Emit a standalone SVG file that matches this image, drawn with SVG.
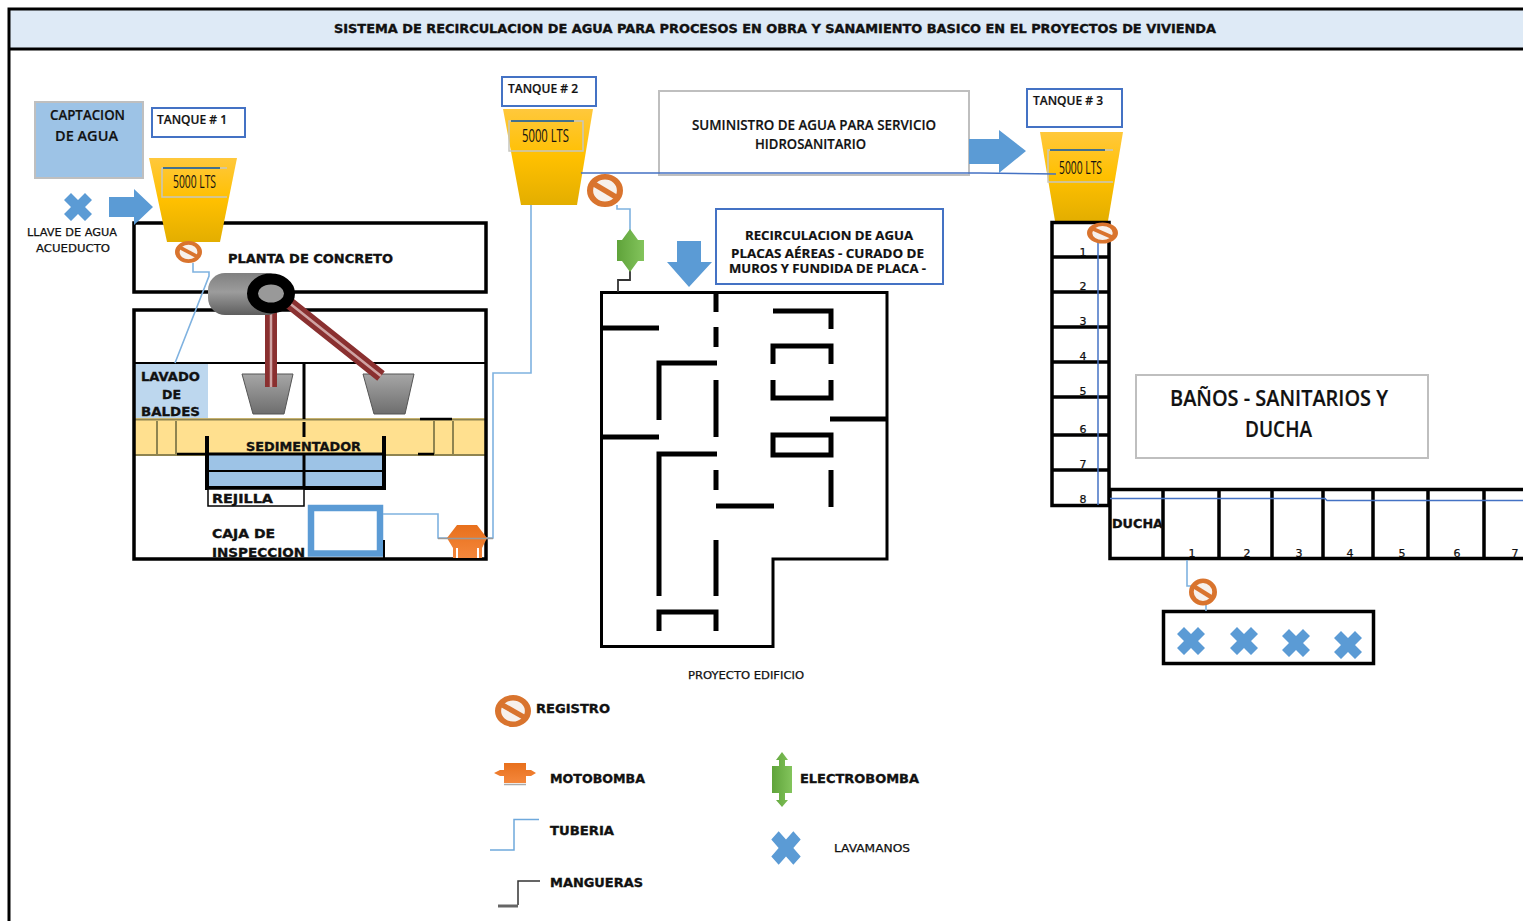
<svg xmlns="http://www.w3.org/2000/svg" width="1523" height="921" viewBox="0 0 1523 921">
<style>
text{fill:#111;font-family:"Liberation Sans",Arial,sans-serif}
.h{font-family:"DejaVu Sans",sans-serif;font-weight:bold;font-size:13px;stroke:#111;stroke-width:.35}
.n{font-family:"Open Sans",sans-serif;font-size:14px;font-weight:600;stroke:#111;stroke-width:.2}
.q{font-family:"Open Sans",sans-serif;font-size:18px;font-weight:400}
.s{font-family:"DejaVu Sans",sans-serif;font-size:11px;stroke:#111;stroke-width:.25}
.d{font-family:"DejaVu Sans",sans-serif;font-size:11px;text-anchor:middle;stroke:#111;stroke-width:.25}
.k{fill:none;stroke:#000;stroke-width:3.5}
.w{fill:none;stroke:#000;stroke-width:5;stroke-linejoin:miter}
.l{fill:#fff;stroke:#4472c4;stroke-width:2}
.g{fill:#fff;stroke:#bfbfbf;stroke-width:2}
.tank{fill:url(#ty);stroke:none}
.tb{fill:none;stroke:#c6c6c0;stroke-width:1.5}
.tt{stroke:#44708c;stroke-width:2}
.p1{fill:none;stroke:#7fb2e0;stroke-width:1.6}
.p2{fill:none;stroke:#4472c4;stroke-width:1.5}
.x{fill:#5b9bd5}
.a{fill:#5b9bd5}
.hose{fill:none;stroke:#8a3030;stroke-width:12}
.hi{fill:none;stroke:#cfa3a3;stroke-width:2.5}
.bk{fill:url(#gy);stroke:#555;stroke-width:1}
</style>
<defs>
<linearGradient id="ty" x1="0" y1="0" x2="0" y2="1"><stop offset="0" stop-color="#ffc83c"/><stop offset="0.5" stop-color="#ffc000"/><stop offset="1" stop-color="#e3ae00"/></linearGradient>
<linearGradient id="gy" x1="0" y1="0" x2="0" y2="1"><stop offset="0" stop-color="#a6a6a6"/><stop offset="1" stop-color="#6e6e6e"/></linearGradient>
<linearGradient id="cy" x1="0" y1="0" x2="0" y2="1"><stop offset="0" stop-color="#808080"/><stop offset="0.45" stop-color="#9c9c9c"/><stop offset="1" stop-color="#5e5e5e"/></linearGradient>
<linearGradient id="gr" x1="0" y1="0" x2="1" y2="0"><stop offset="0" stop-color="#5fa33a"/><stop offset="1" stop-color="#83c45c"/></linearGradient>
<linearGradient id="or" x1="0" y1="0" x2="0" y2="1"><stop offset="0" stop-color="#e8701c"/><stop offset="1" stop-color="#f4873c"/></linearGradient>
<g id="reg"><circle r="8.3" fill="#f7f1ec" stroke="#d9742e" stroke-width="3.4"/><line x1="-7" y1="-4.500" x2="7" y2="4.500" stroke="#d9742e" stroke-width="3.200"/></g>
<polygon id="xx" class="x" points="-7,-14 0,-7 7,-14 14,-7 7,0 14,7 7,14 0,7 -7,14 -14,7 -7,0 -14,-7"/>
</defs>
<rect width="1523" height="921" fill="#fff"/>

<g id="frame">
<rect x="9" y="9" width="1516" height="40" fill="#deeaf6"/>
<path d="M9 921V9H1523M9 49H1523" fill="none" stroke="#000" stroke-width="3"/>
<text class="h" x="334" y="33" textLength="882" lengthAdjust="spacingAndGlyphs" style="font-size:12px">SISTEMA DE RECIRCULACION DE AGUA PARA PROCESOS EN OBRA Y SANAMIENTO BASICO EN EL PROYECTOS DE VIVIENDA</text>
</g>

<g id="planta">
<rect class="k" x="134" y="223" width="352" height="69"/>
<text class="h" x="228" y="263" textLength="165" lengthAdjust="spacingAndGlyphs">PLANTA DE CONCRETO</text>
</g>

<g id="obra-planta">
<rect x="135" y="364" width="73" height="54" fill="#bdd7ee"/>
<rect x="134" y="418" width="352" height="38" fill="#ffe08f"/>
<path d="M134 419.500H486M134 455H486M157 421V454M176 421V454M434 421V454M453 421V454" fill="none" stroke="#8f8450" stroke-width="2"/>
<rect x="207" y="454" width="177" height="34" fill="#9dc3e6"/>
<path d="M207 471H384" stroke="#000" stroke-width="2"/>
<path d="M304 454V488" stroke="#000" stroke-width="3"/>
<path d="M207 436V488H384V436" class="w" style="stroke-width:4"/>
<path d="M207 454H384" stroke="#000" stroke-width="3"/>
<rect class="k" x="134" y="310" width="352" height="249"/>
<path d="M134 363H486" stroke="#000" stroke-width="2"/>
<path d="M304 363V419M304 422V437" stroke="#000" stroke-width="3"/>
<path d="M420 419H452M177 454H205M418 454H434" stroke="#000" stroke-width="2.500"/>
<rect x="208" y="489" width="96" height="17" fill="#fff" stroke="#000" stroke-width="1.500"/>
<text class="h" x="141" y="381" textLength="59" lengthAdjust="spacingAndGlyphs">LAVADO</text>
<text class="h" x="162" y="399" textLength="19" lengthAdjust="spacingAndGlyphs">DE</text>
<text class="h" x="141" y="416" textLength="59" lengthAdjust="spacingAndGlyphs">BALDES</text>
<text class="h" x="246" y="451" textLength="115" lengthAdjust="spacingAndGlyphs">SEDIMENTADOR</text>
<text class="h" x="212" y="503" textLength="61" lengthAdjust="spacingAndGlyphs">REJILLA</text>
<text class="h" x="212" y="538" textLength="63" lengthAdjust="spacingAndGlyphs">CAJA DE</text>
<text class="h" x="212" y="557" textLength="93" lengthAdjust="spacingAndGlyphs">INSPECCION</text>
</g>

<g id="caja"><rect x="311" y="508" width="69" height="45.500" fill="#fff" stroke="#5b9bd5" stroke-width="6.500"/><path d="M384 540V558" stroke="#000" stroke-width="2"/></g>

<g id="baldes">
<polygon class="bk" points="242,374 293,374 284,414 253,414"/>
<polygon class="bk" points="363,374 414,374 405,414 374,414"/>
</g>

<g id="captacion">
<rect x="35" y="102" width="108" height="76" fill="#9dc3e6" stroke="#bfbfbf" stroke-width="2"/>
<text class="n" x="50" y="120" textLength="75" lengthAdjust="spacingAndGlyphs">CAPTACION</text>
<text class="n" x="55" y="141" textLength="63" lengthAdjust="spacingAndGlyphs">DE  AGUA</text>
</g>

<g id="llave">
<use href="#xx" x="78" y="207"/>
<text class="s" x="27" y="236" textLength="90" lengthAdjust="spacingAndGlyphs">LLAVE DE AGUA</text>
<text class="s" x="36" y="252" textLength="74" lengthAdjust="spacingAndGlyphs">ACUEDUCTO</text>
</g>
<polygon id="flecha-1" class="a" points="109,197 134,197 134,189 153,207 134,225 134,217 109,217"/>

<g id="tanque-1">
<rect class="l" x="152" y="108" width="93" height="29"/>
<text class="n" x="157" y="124" textLength="70" lengthAdjust="spacingAndGlyphs" style="font-size:12px">TANQUE # 1</text>
<polygon class="tank" points="149,158 237,158 220,242 167,242"/>
<path class="tb" d="M227 168H162V197H227"/>
<path class="tt" d="M163 168H220"/>
<text class="q" x="173" y="188" textLength="43" lengthAdjust="spacingAndGlyphs">5000 LTS</text>
</g>

<g id="tanque-2">
<rect class="l" x="502" y="77" width="94" height="29"/>
<text class="n" x="508" y="93" textLength="70" lengthAdjust="spacingAndGlyphs" style="font-size:12px">TANQUE # 2</text>
<polygon class="tank" points="503,109 593,109 577,205 521,205"/>
<rect class="tb" x="509" y="121" width="74" height="30"/>
<path class="tt" d="M511 121H574"/>
<text class="q" x="522" y="142" textLength="47" lengthAdjust="spacingAndGlyphs">5000 LTS</text>
</g>

<polygon id="flecha-abajo" class="a" points="677,241 701,241 701,262 712,262 689,287 667,262 677,262"/>

<g id="suministro">
<rect class="g" x="659" y="91" width="310" height="84"/>
<text class="n" x="692" y="130" textLength="244" lengthAdjust="spacingAndGlyphs">SUMINISTRO DE AGUA PARA SERVICIO</text>
<text class="n" x="755" y="149" textLength="111" lengthAdjust="spacingAndGlyphs">HIDROSANITARIO</text>
</g>
<polygon id="flecha-2" class="a" points="969,139 999,139 999,130 1026,151 999,173 999,164 969,164"/>

<g id="recirculacion">
<rect class="l" x="716" y="209" width="227" height="75"/>
<text class="n" x="745" y="240" textLength="168" lengthAdjust="spacingAndGlyphs" style="font-size:13px;font-weight:700">RECIRCULACION DE AGUA</text>
<text class="n" x="731" y="258" textLength="193" lengthAdjust="spacingAndGlyphs" style="font-size:13px;font-weight:700">PLACAS AÉREAS - CURADO DE</text>
<text class="n" x="729" y="273" textLength="197" lengthAdjust="spacingAndGlyphs" style="font-size:13px;font-weight:700">MUROS Y FUNDIDA DE PLACA -</text>
</g>

<g id="edificio">
<path d="M601.500 292.500H887V559H773V646.500H601.500Z" fill="none" stroke="#000" stroke-width="3"/>
<path class="w" d="M602 328H659M716 293V312M716 327V347M716 380V437M716 470V490M716 540V596M659 420V363H717M602 437H659M659 596V454H717M659 631V612H716V631M773 311H831V329M773 364V346H831V364M773 380V398H831V380M830 419H887M773 435H831V455H773ZM831 470V507M716 506H774"/>
<text class="s" x="688" y="679" textLength="116" lengthAdjust="spacingAndGlyphs">PROYECTO EDIFICIO</text>
</g>

<g id="tanque-3">
<rect class="l" x="1027" y="89" width="95" height="38"/>
<text class="n" x="1033" y="105" textLength="70" lengthAdjust="spacingAndGlyphs" style="font-size:12px">TANQUE # 3</text>
<polygon class="tank" points="1040,132 1123,132 1108,221 1055,221"/>
<path class="tb" d="M1113 150H1048V182H1113"/>
<path class="tt" d="M1050 150H1105"/>
<text class="q" x="1059" y="174" textLength="43" lengthAdjust="spacingAndGlyphs">5000 LTS</text>
</g>

<g id="sanitarios">
<rect class="k" x="1052" y="222.500" width="57" height="283"/>
<path d="M1052 257H1109M1052 292H1109M1052 327H1109M1052 362H1109M1052 397H1109M1052 435H1109M1052 470H1109" stroke="#000" stroke-width="3.500"/>
<text class="d" x="1083" y="256">1</text><text class="d" x="1083" y="290">2</text><text class="d" x="1083" y="325">3</text><text class="d" x="1083" y="360">4</text><text class="d" x="1083" y="395">5</text><text class="d" x="1083" y="433">6</text><text class="d" x="1083" y="468">7</text><text class="d" x="1083" y="503">8</text>
</g>

<g id="duchas">
<path d="M1523 489.500H1110V558.500H1523" class="k"/>
<path d="M1163 489V559M1219 489V559M1272 489V559M1323 489V559M1373 489V559M1428 489V559M1484 489V559" stroke="#000" stroke-width="3.500"/>
<text class="h" x="1112" y="528" textLength="51" lengthAdjust="spacingAndGlyphs">DUCHA</text>
<text class="d" x="1192" y="557">1</text><text class="d" x="1247" y="557">2</text><text class="d" x="1299" y="557">3</text><text class="d" x="1350" y="557">4</text><text class="d" x="1402" y="557">5</text><text class="d" x="1457" y="557">6</text><text class="d" x="1515" y="557">7</text>
</g>

<g id="banos">
<rect class="g" x="1136" y="375" width="292" height="83"/>
<text class="n" x="1170" y="406" textLength="218" lengthAdjust="spacingAndGlyphs" style="font-size:22px">BAÑOS - SANITARIOS Y</text>
<text class="n" x="1245" y="437" textLength="67" lengthAdjust="spacingAndGlyphs" style="font-size:22px">DUCHA</text>
</g>

<g id="lavamanos">
<rect class="k" x="1163.500" y="611.500" width="210" height="52"/>
<use href="#xx" x="1191" y="641"/><use href="#xx" x="1244" y="641"/><use href="#xx" x="1296" y="643"/><use href="#xx" x="1348" y="645"/>
</g>

<g id="connectors">
<path class="p1" d="M193 263V272H209V276L175 363"/>
<path class="p1" d="M531 205V373H493V538H438V514H383"/>
<path class="p1" d="M617 205V209H630V232"/>
<path d="M630 270V280H618V292" fill="none" stroke="#333" stroke-width="1.800"/>
<path class="p2" d="M581 173H980L1056 174"/>
<path class="p2" d="M1098 232V505"/>
<path class="p2" d="M1110 498.500H1325L1327 500.500H1523"/>
<path class="p1" d="M1187 560V586H1200M1206 595V611"/>
</g>

<g id="mezcladora">
<path class="hose" d="M271 312V387M288 302L381 376"/>
<path class="hi" d="M271 312V387M288 302L381 376"/>
<rect x="208" y="273" width="76" height="42" rx="17" fill="url(#cy)"/>
<ellipse cx="271" cy="293.500" rx="18.500" ry="14.500" fill="#999" stroke="#000" stroke-width="11"/>
</g>

<use id="registro-1" href="#reg" transform="translate(188.500 252) scale(1.350 1.100)"/>
<use id="registro-2" href="#reg" transform="translate(605 190.500) scale(1.800 1.650)"/>
<use id="registro-3" href="#reg" transform="translate(1102.500 233) scale(1.550 1.050)"/>
<use id="registro-4" href="#reg" transform="translate(1203 592) scale(1.400 1.350)"/>

<g id="electrobomba-1">
<polygon fill="url(#gr)" points="630,229 638,240 644,240 644,261 638,261 630,272 622,261 617,261 617,240 622,240"/>
</g>

<g id="motobomba">
<path fill="url(#or)" d="M457 525H477L487 538L482 548V558H453V548L447 538Z"/>
<path d="M457 548V558M478 548V558" stroke="#fff" stroke-width="2"/>
<path d="M438 538.500H493" stroke="#9a9a9a" stroke-width="1.500"/>
</g>

<g id="leyenda-registro">
<use href="#reg" transform="translate(513 711) scale(1.800 1.600)"/>
<text class="h" x="536" y="713" textLength="74" lengthAdjust="spacingAndGlyphs">REGISTRO</text>
</g>
<g id="leyenda-motobomba">
<path d="M494 773L500 770H504V763H526V770H531L536 773L531 776H526V783H504V776H500Z" fill="url(#or)"/>
<path d="M504 784.500H526" stroke="#aaa" stroke-width="1.500"/>
<text class="h" x="550" y="783" textLength="95" lengthAdjust="spacingAndGlyphs">MOTOBOMBA</text>
</g>
<g id="leyenda-tuberia">
<path d="M490 850H514V819.500H539" fill="none" stroke="#6fa9dc" stroke-width="1.500"/>
<text class="h" x="550" y="835" textLength="64" lengthAdjust="spacingAndGlyphs">TUBERIA</text>
</g>
<g id="leyenda-mangueras">
<path d="M518 905V881H540" fill="none" stroke="#333" stroke-width="1.500"/>
<path d="M498 906H518" stroke="#666" stroke-width="3"/>
<text class="h" x="550" y="887" textLength="93" lengthAdjust="spacingAndGlyphs">MANGUERAS</text>
</g>
<g id="leyenda-electrobomba">
<polygon fill="url(#gr)" points="782,752 788,760 785,760 785,766 792,766 792,793 785,793 785,800 788,800 782,807 776,800 779,800 779,793 772,793 772,766 779,766 779,760 776,760"/>
<text class="h" x="800" y="783" textLength="119" lengthAdjust="spacingAndGlyphs">ELECTROBOMBA</text>
</g>
<g id="leyenda-lavamanos">
<use href="#xx" transform="translate(786 848) scale(1.050 1.200)"/>
<text class="s" x="834" y="852" textLength="76" lengthAdjust="spacingAndGlyphs">LAVAMANOS</text>
</g>
</svg>
